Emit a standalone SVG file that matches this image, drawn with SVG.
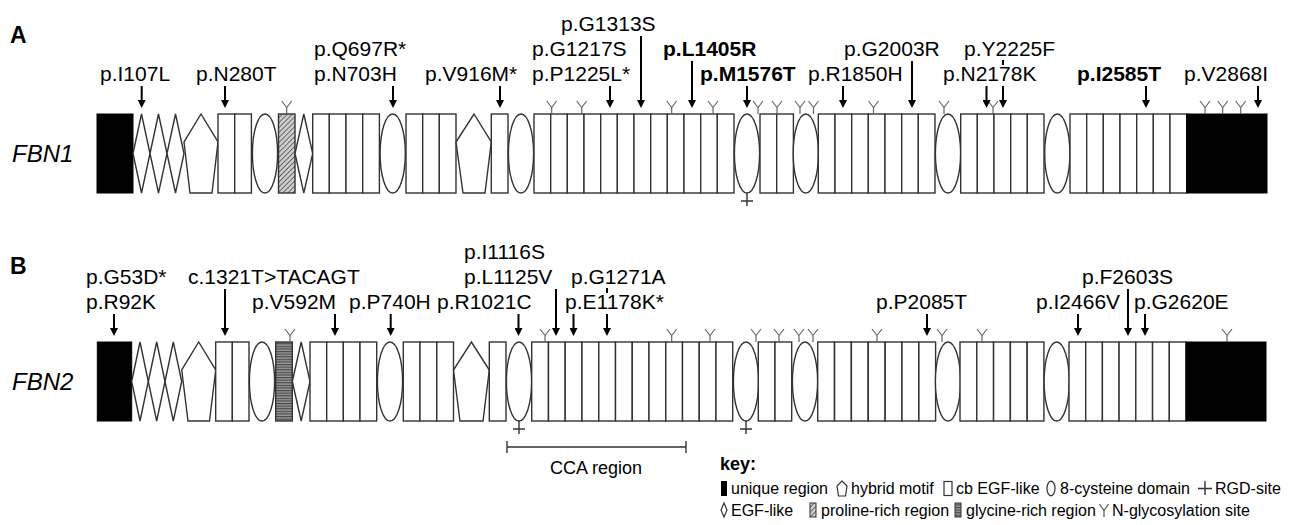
<svg xmlns="http://www.w3.org/2000/svg" width="1289" height="525" viewBox="0 0 1289 525">
<defs>
<style>
text{font-family:"Liberation Sans",Arial,Helvetica,sans-serif;fill:#000}
.lbl{font-size:21px}
.b{font-weight:bold}
.gene{font-size:24px;font-style:italic}
.panel{font-size:23px;font-weight:bold}
.box{fill:#fff;stroke:#333;stroke-width:1.4}
.blk{fill:#000;stroke:#000;stroke-width:1}
.arr{stroke:#000;stroke-width:2;fill:none;marker-end:url(#ah)}
.tick{stroke:#000;stroke-width:2}
.y{stroke:#666;stroke-width:1.2;fill:none}
.rgd{stroke:#333;stroke-width:1.4;fill:none}
.key{font-size:16px}
.kicon{fill:#fff;stroke:#333;stroke-width:1.2}
</style>
<marker id="ah" viewBox="0 0 8 8" markerUnits="userSpaceOnUse" markerWidth="8" markerHeight="8" refX="2" refY="4" orient="auto"><path d="M0,0 L8,4 L0,8 z" fill="#000"/></marker>
<pattern id="hatch" width="3.5" height="3.5" patternUnits="userSpaceOnUse" patternTransform="rotate(45)"><rect width="3.5" height="3.5" fill="#ccc"/><line x1="0" y1="0" x2="0" y2="3.5" stroke="#444" stroke-width="1.4"/></pattern>
<pattern id="glyc" width="4" height="2.6" patternUnits="userSpaceOnUse"><rect width="4" height="2.6" fill="#999"/><line x1="0" y1="0.6" x2="4" y2="0.6" stroke="#444" stroke-width="1.1"/></pattern>
<rect id="cb" width="16.7" height="79" class="box"/>
<ellipse id="c8" rx="12.6" ry="39.5" class="box"/>
<path id="ys" d="M0,0V-6.5M0,-6.5L-5,-13M0,-6.5L5,-13" class="y"/>
<path id="rgd" d="M0,0V13M-6,8H6" class="rgd"/>
</defs>
<rect width="1289" height="525" fill="#fff"/>

<text class="panel" x="10" y="43">A</text>
<text class="panel" x="10" y="274">B</text>

<!-- FBN1 domains -->
<g id="fbn1">
<text class="gene" x="12" y="162">FBN1</text>
<rect x="97" y="114" width="36" height="79" class="blk"/>
<polygon class="box" points="133,153.5 141.5,114 150,153.5 141.5,193"/>
<polygon class="box" points="150,153.5 158.5,114 167,153.5 158.5,193"/>
<polygon class="box" points="167,153.5 175.5,114 184,153.5 175.5,193"/>
<polygon class="box" points="201,114 218,142 212,193 190,193 184,142"/>
<use href="#cb" x="218" y="114"/><use href="#cb" x="234.7" y="114"/>
<use href="#c8" x="265" y="153.5"/>
<rect x="278.5" y="114" width="16.5" height="79" fill="url(#hatch)" stroke="#333" stroke-width="1.4"/>
<polygon class="box" points="295,153.5 303.8,114 312.7,153.5 303.8,193"/>
<use href="#cb" x="312.7" y="114"/><use href="#cb" x="329.3" y="114"/><use href="#cb" x="346" y="114"/><use href="#cb" x="362.7" y="114"/>
<use href="#c8" x="392.7" y="153.5"/>
<use href="#cb" x="406" y="114"/><use href="#cb" x="422.7" y="114"/><use href="#cb" x="439.3" y="114"/>
<polygon class="box" points="474,114 491.3,142 485,193 463,193 456,142"/>
<use href="#cb" x="491.3" y="114"/>
<use href="#c8" x="521" y="153.5"/>
<use href="#cb" x="534" y="114"/><use href="#cb" x="550.7" y="114"/><use href="#cb" x="567.3" y="114"/><use href="#cb" x="584" y="114"/><use href="#cb" x="600.7" y="114"/><use href="#cb" x="617.3" y="114"/><use href="#cb" x="634" y="114"/><use href="#cb" x="650.7" y="114"/><use href="#cb" x="667.3" y="114"/><use href="#cb" x="684" y="114"/><use href="#cb" x="700.7" y="114"/><use href="#cb" x="717.3" y="114"/>
<use href="#c8" x="747" y="153.5"/>
<use href="#cb" x="760" y="114"/><use href="#cb" x="776.7" y="114"/>
<use href="#c8" x="805.8" y="153.5"/>
<use href="#cb" x="818.3" y="114"/><use href="#cb" x="835" y="114"/><use href="#cb" x="851.7" y="114"/><use href="#cb" x="868.3" y="114"/><use href="#cb" x="885" y="114"/><use href="#cb" x="901.7" y="114"/><use href="#cb" x="918.3" y="114"/>
<use href="#c8" x="948" y="153.5"/>
<use href="#cb" x="960.7" y="114"/><use href="#cb" x="977.3" y="114"/><use href="#cb" x="994" y="114"/><use href="#cb" x="1010.7" y="114"/><use href="#cb" x="1027.3" y="114"/>
<use href="#c8" x="1057.3" y="153.5"/>
<use href="#cb" x="1070" y="114"/><use href="#cb" x="1086.7" y="114"/><use href="#cb" x="1103.3" y="114"/><use href="#cb" x="1120" y="114"/><use href="#cb" x="1136.7" y="114"/><use href="#cb" x="1153.3" y="114"/><use href="#cb" x="1170" y="114"/>
<rect x="1186.7" y="114" width="80.3" height="79" class="blk"/>
</g>

<g id="fbn1-sites">
<use href="#ys" x="286.7" y="114"/><use href="#ys" x="551.7" y="114"/><use href="#ys" x="581.7" y="114"/><use href="#ys" x="671.7" y="114"/><use href="#ys" x="713" y="114"/><use href="#ys" x="758" y="114"/><use href="#ys" x="777" y="114"/><use href="#ys" x="800" y="114"/><use href="#ys" x="813.5" y="114"/><use href="#ys" x="873.5" y="114"/><use href="#ys" x="944" y="114"/><use href="#ys" x="993" y="114"/><use href="#ys" x="1205" y="114"/><use href="#ys" x="1222.7" y="114"/><use href="#ys" x="1240.7" y="114"/>
<use href="#rgd" x="747" y="193"/>
</g>

<!-- FBN2 domains -->
<g id="fbn2">
<text class="gene" x="12" y="390">FBN2</text>
<rect x="97.3" y="342" width="34.4" height="79" class="blk"/>
<polygon class="box" points="131.7,381.5 140,342 148.3,381.5 140,421"/>
<polygon class="box" points="148.3,381.5 156.7,342 165,381.5 156.7,421"/>
<polygon class="box" points="165,381.5 173.3,342 181.7,381.5 173.3,421"/>
<polygon class="box" points="198.7,342 215.7,370 209.5,421 188,421 181.7,370"/>
<use href="#cb" x="215.7" y="342"/><use href="#cb" x="232.3" y="342"/>
<use href="#c8" x="262" y="381.5"/>
<rect x="275.7" y="342" width="16.6" height="79" fill="url(#glyc)" stroke="#333" stroke-width="1.4"/>
<polygon class="box" points="292.3,381.5 301.2,342 310,381.5 301.2,421"/>
<use href="#cb" x="310" y="342"/><use href="#cb" x="326.7" y="342"/><use href="#cb" x="343.3" y="342"/><use href="#cb" x="360" y="342"/>
<use href="#c8" x="390" y="381.5"/>
<use href="#cb" x="403.3" y="342"/><use href="#cb" x="420" y="342"/><use href="#cb" x="436.8" y="342"/>
<polygon class="box" points="471.4,342 489.3,370 483,421 460,421 453.5,370"/>
<use href="#cb" x="489.3" y="342"/>
<use href="#c8" x="519" y="381.5"/>
<use href="#cb" x="531.7" y="342"/><use href="#cb" x="548.5" y="342"/><use href="#cb" x="565.2" y="342"/><use href="#cb" x="582" y="342"/><use href="#cb" x="598.8" y="342"/><use href="#cb" x="615.5" y="342"/><use href="#cb" x="632.3" y="342"/><use href="#cb" x="649" y="342"/><use href="#cb" x="665.8" y="342"/><use href="#cb" x="682.5" y="342"/><use href="#cb" x="699.3" y="342"/><use href="#cb" x="716" y="342"/>
<use href="#c8" x="746" y="381.5"/>
<use href="#cb" x="758.3" y="342"/><use href="#cb" x="775" y="342"/>
<use href="#c8" x="805" y="381.5"/>
<use href="#cb" x="817.7" y="342"/><use href="#cb" x="834.6" y="342"/><use href="#cb" x="851.4" y="342"/><use href="#cb" x="868.3" y="342"/><use href="#cb" x="885.2" y="342"/><use href="#cb" x="902" y="342"/><use href="#cb" x="918.9" y="342"/>
<use href="#c8" x="948" y="381.5"/>
<use href="#cb" x="960" y="342"/><use href="#cb" x="976.8" y="342"/><use href="#cb" x="993.6" y="342"/><use href="#cb" x="1010.4" y="342"/><use href="#cb" x="1027.2" y="342"/>
<use href="#c8" x="1056.7" y="381.5"/>
<use href="#cb" x="1069" y="342"/><use href="#cb" x="1085.7" y="342"/><use href="#cb" x="1102.4" y="342"/><use href="#cb" x="1119.1" y="342"/><use href="#cb" x="1135.8" y="342"/><use href="#cb" x="1152.6" y="342"/><use href="#cb" x="1169.3" y="342"/>
<rect x="1186" y="342" width="80" height="79" class="blk"/>
</g>

<g id="fbn2-sites">
<use href="#ys" x="290" y="342"/><use href="#ys" x="545" y="342"/><use href="#ys" x="671.7" y="342"/><use href="#ys" x="710" y="342"/><use href="#ys" x="756" y="342"/><use href="#ys" x="779" y="342"/><use href="#ys" x="799" y="342"/><use href="#ys" x="813" y="342"/><use href="#ys" x="877" y="342"/><use href="#ys" x="942" y="342"/><use href="#ys" x="982" y="342"/><use href="#ys" x="1227" y="342"/>
<use href="#rgd" x="519" y="421"/><use href="#rgd" x="746" y="421"/>
</g>

<!-- FBN1 labels -->
<g id="fbn1-labels">
<g id="l-I107L"><text class="lbl" x="100" y="81">p.I107L</text></g>
<g id="l-N280T"><text class="lbl" x="196" y="81">p.N280T</text></g>
<g id="l-Q697R-N703H"><text class="lbl" x="314" y="56">p.Q697R*</text><text class="lbl" x="314" y="81">p.N703H</text></g>
<g id="l-V916M"><text class="lbl" x="425" y="81">p.V916M*</text></g>
<g id="l-G1217S-P1225L"><text class="lbl" x="532" y="56">p.G1217S</text><text class="lbl" x="532" y="81">p.P1225L*</text></g>
<g id="l-G1313S"><text class="lbl" x="561" y="31">p.G1313S</text></g>
<g id="l-L1405R"><text class="lbl b" x="663" y="56">p.L1405R</text></g>
<g id="l-M1576T"><text class="lbl b" x="700" y="81">p.M1576T</text></g>
<g id="l-R1850H"><text class="lbl" x="808" y="81">p.R1850H</text></g>
<g id="l-G2003R"><text class="lbl" x="844" y="56">p.G2003R</text></g>
<g id="l-Y2225F"><text class="lbl" x="964" y="56">p.Y2225F</text></g>
<g id="l-N2178K"><text class="lbl" x="943" y="81">p.N2178K</text></g>
<g id="l-I2585T"><text class="lbl b" x="1077" y="81">p.I2585T</text></g>
<g id="l-V2868I"><text class="lbl" x="1184" y="81">p.V2868I</text></g>
</g>

<!-- FBN2 labels -->
<g id="fbn2-labels">
<g id="l-G53D-R92K"><text class="lbl" x="86" y="284">p.G53D*</text><text class="lbl" x="86" y="309">p.R92K</text></g>
<g id="l-c1321"><text class="lbl" x="188" y="284">c.1321T&gt;TACAGT</text></g>
<g id="l-V592M"><text class="lbl" x="252" y="309">p.V592M</text></g>
<g id="l-P740H"><text class="lbl" x="349" y="309">p.P740H</text></g>
<g id="l-R1021C"><text class="lbl" x="437" y="309">p.R1021C</text></g>
<g id="l-I1116S-L1125V"><text class="lbl" x="464" y="259">p.I1116S</text><text class="lbl" x="464" y="284">p.L1125V</text></g>
<g id="l-G1271A"><text class="lbl" x="571" y="284">p.G1271A</text></g>
<g id="l-E1178K"><text class="lbl" x="565" y="309">p.E1178K*</text></g>
<g id="l-P2085T"><text class="lbl" x="876" y="309">p.P2085T</text></g>
<g id="l-I2466V"><text class="lbl" x="1036" y="309">p.I2466V</text></g>
<g id="l-F2603S"><text class="lbl" x="1082" y="284">p.F2603S</text></g>
<g id="l-G2620E"><text class="lbl" x="1134" y="309">p.G2620E</text></g>
</g>

<!-- connectors -->
<g id="connectors">
<line class="arr" x1="141.7" y1="86" x2="141.7" y2="102"/>
<line class="arr" x1="225" y1="86" x2="225" y2="102"/>
<line class="arr" x1="393" y1="86" x2="393" y2="102"/>
<line class="arr" x1="500" y1="86" x2="500" y2="102"/>
<line class="arr" x1="610" y1="86" x2="610" y2="102"/>
<line class="arr" x1="641" y1="36" x2="641" y2="102"/>
<line class="arr" x1="692" y1="61" x2="692" y2="102"/>
<line class="arr" x1="747" y1="86" x2="747" y2="102"/>
<line class="arr" x1="843" y1="86" x2="843" y2="102"/>
<line class="arr" x1="912" y1="61" x2="912" y2="102"/>
<line class="tick" x1="1003" y1="60" x2="1003" y2="65"/>
<line class="arr" x1="986.5" y1="86" x2="986.5" y2="102"/>
<line class="arr" x1="1003" y1="86" x2="1003" y2="102"/>
<line class="arr" x1="1146" y1="86" x2="1146" y2="102"/>
<line class="arr" x1="1258" y1="86" x2="1258" y2="102"/>

<line class="arr" x1="114" y1="314" x2="114" y2="330"/>
<line class="arr" x1="225" y1="289" x2="225" y2="330"/>
<line class="arr" x1="335" y1="314" x2="335" y2="330"/>
<line class="arr" x1="390.7" y1="314" x2="390.7" y2="330"/>
<line class="arr" x1="518.5" y1="314" x2="518.5" y2="330"/>
<line class="arr" x1="556" y1="289" x2="556" y2="330"/>
<line class="arr" x1="573.5" y1="314" x2="573.5" y2="330"/>
<line class="tick" x1="607" y1="288" x2="607" y2="293"/>
<line class="arr" x1="607" y1="314" x2="607" y2="330"/>
<line class="arr" x1="927" y1="314" x2="927" y2="330"/>
<line class="arr" x1="1078" y1="314" x2="1078" y2="330"/>
<line class="arr" x1="1128" y1="289" x2="1128" y2="330"/>
<line class="arr" x1="1145" y1="314" x2="1145" y2="330"/>
</g>

<g id="cca">
<path d="M507,441V453M507,447H686M686,441V453" stroke="#333" stroke-width="1.4" fill="none"/>
<text x="596" y="474" font-size="18" text-anchor="middle">CCA region</text>
</g>

<g id="key">
<text class="b" x="720" y="470" font-size="18">key:</text>
<rect x="721" y="481" width="6" height="15" fill="#000"/>
<text class="key" x="731" y="494">unique region</text>
<polygon class="kicon" points="842,481 847,486 845.5,496 838.5,496 837,486"/>
<text class="key" x="851" y="494">hybrid motif</text>
<rect class="kicon" x="944" y="481.5" width="8" height="14"/>
<text class="key" x="956" y="494">cb EGF-like</text>
<ellipse class="kicon" cx="1051" cy="488.5" rx="4" ry="7.3"/>
<text class="key" x="1060" y="494">8-cysteine domain</text>
<path d="M1205,481V495M1198,488.5H1212" stroke="#333" stroke-width="1.4"/>
<text class="key" x="1215" y="494">RGD-site</text>
<polygon class="kicon" points="724,503 727,510 724,517 721,510"/>
<text class="key" x="731" y="516">EGF-like</text>
<rect x="810" y="503" width="6" height="14" fill="url(#hatch)" stroke="#333" stroke-width="1"/>
<text class="key" x="821" y="516">proline-rich region</text>
<rect x="955" y="503" width="6" height="14" fill="url(#glyc)" stroke="#333" stroke-width="1"/>
<text class="key" x="966" y="516">glycine-rich region</text>
<path d="M1104,517V510.5M1104,510.5L1099.5,504M1104,510.5L1108.5,504" stroke="#555" stroke-width="1.2" fill="none"/>
<text class="key" x="1112" y="516">N-glycosylation site</text>
</g>
</svg>
